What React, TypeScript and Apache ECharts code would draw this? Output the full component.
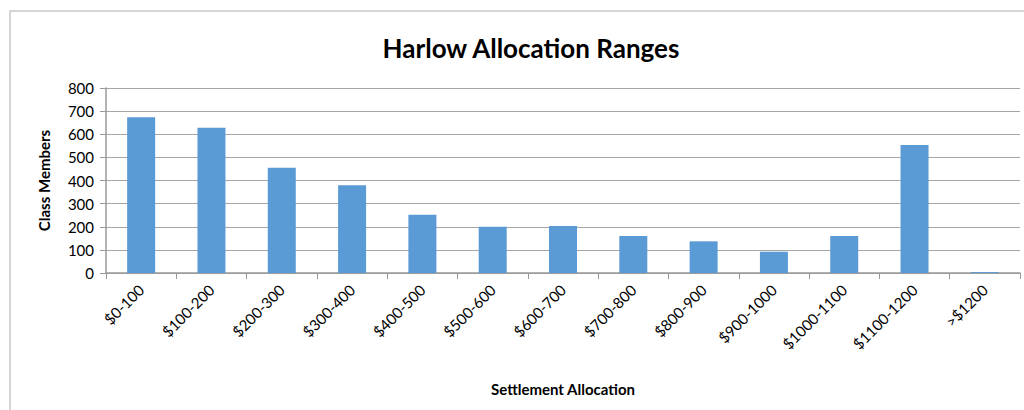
import React, { useEffect, useRef } from "react";
import * as echarts from "echarts";

const categories = [
  "$0-100", "$100-200", "$200-300", "$300-400", "$400-500", "$500-600", "$600-700",
  "$700-800", "$800-900", "$900-1000", "$1000-1100", "$1100-1200", ">$1200",
];
const classMembers = [673, 628, 455, 379, 252, 200, 203, 160, 137, 92, 160, 553, 4];
const yTicks = { min: 0, max: 800, interval: 100 };

const FONT = "Lato, 'Open Sans', sans-serif";

export default function App() {
  const ref = useRef<HTMLDivElement>(null);
  useEffect(() => {
    if (!ref.current) return;
    const chart = echarts.init(ref.current, undefined, { renderer: "svg" });
    chart.setOption({
      animation: false,
      backgroundColor: "#ffffff",
      title: {
        text: "Harlow Allocation Ranges",
        left: 526,
        top: 30,
        textAlign: "center",
        textStyle: { fontFamily: FONT, fontSize: 26, fontWeight: "bold", color: "#000" },
      },
      graphic: [
        {
          type: "rect",
          shape: { x: 10, y: 11, width: 1100, height: 500 },
          style: { fill: "none", stroke: "#c8c8c8", lineWidth: 1.5 },
          silent: true,
        },
      ],
      grid: { left: 106, right: 4, top: 88, bottom: 137, containLabel: false },
      xAxis: {
        type: "category",
        data: categories,
        name: "Settlement Allocation",
        nameLocation: "middle",
        nameGap: 108,
        nameTextStyle: { fontFamily: FONT, fontSize: 15, fontWeight: "bold", color: "#000" },
        axisLine: { lineStyle: { color: "#999", width: 1.5 } },
        axisTick: { show: true, alignWithLabel: false, length: 6, lineStyle: { color: "#999" } },
        axisLabel: {
          rotate: 45,
          interval: 0,
          margin: 14,
          fontFamily: FONT,
          fontSize: 15,
          color: "#000",
        },
      },
      yAxis: {
        type: "value",
        min: yTicks.min,
        max: yTicks.max,
        interval: yTicks.interval,
        name: "Class Members",
        nameLocation: "middle",
        nameGap: 55,
        nameRotate: 90,
        nameTextStyle: { fontFamily: FONT, fontSize: 15, fontWeight: "bold", color: "#000" },
        axisLine: { show: true, lineStyle: { color: "#999", width: 1.5 } },
        axisTick: { show: true, length: 6, lineStyle: { color: "#999" } },
        axisLabel: { fontFamily: FONT, fontSize: 15, color: "#000", margin: 12 },
        splitLine: { show: true, lineStyle: { color: "#a6a6a6", width: 1.2 } },
      },
      series: [
        {
          type: "bar",
          data: classMembers,
          barWidth: 28,
          itemStyle: { color: "#5b9bd5" },
        },
      ],
    });
    return () => chart.dispose();
  }, []);
  return (
    <div
      ref={ref}
      style={{ position: "fixed", left: 0, top: 0, width: 1024, height: 410, background: "#fff" }}
    />
  );
}
